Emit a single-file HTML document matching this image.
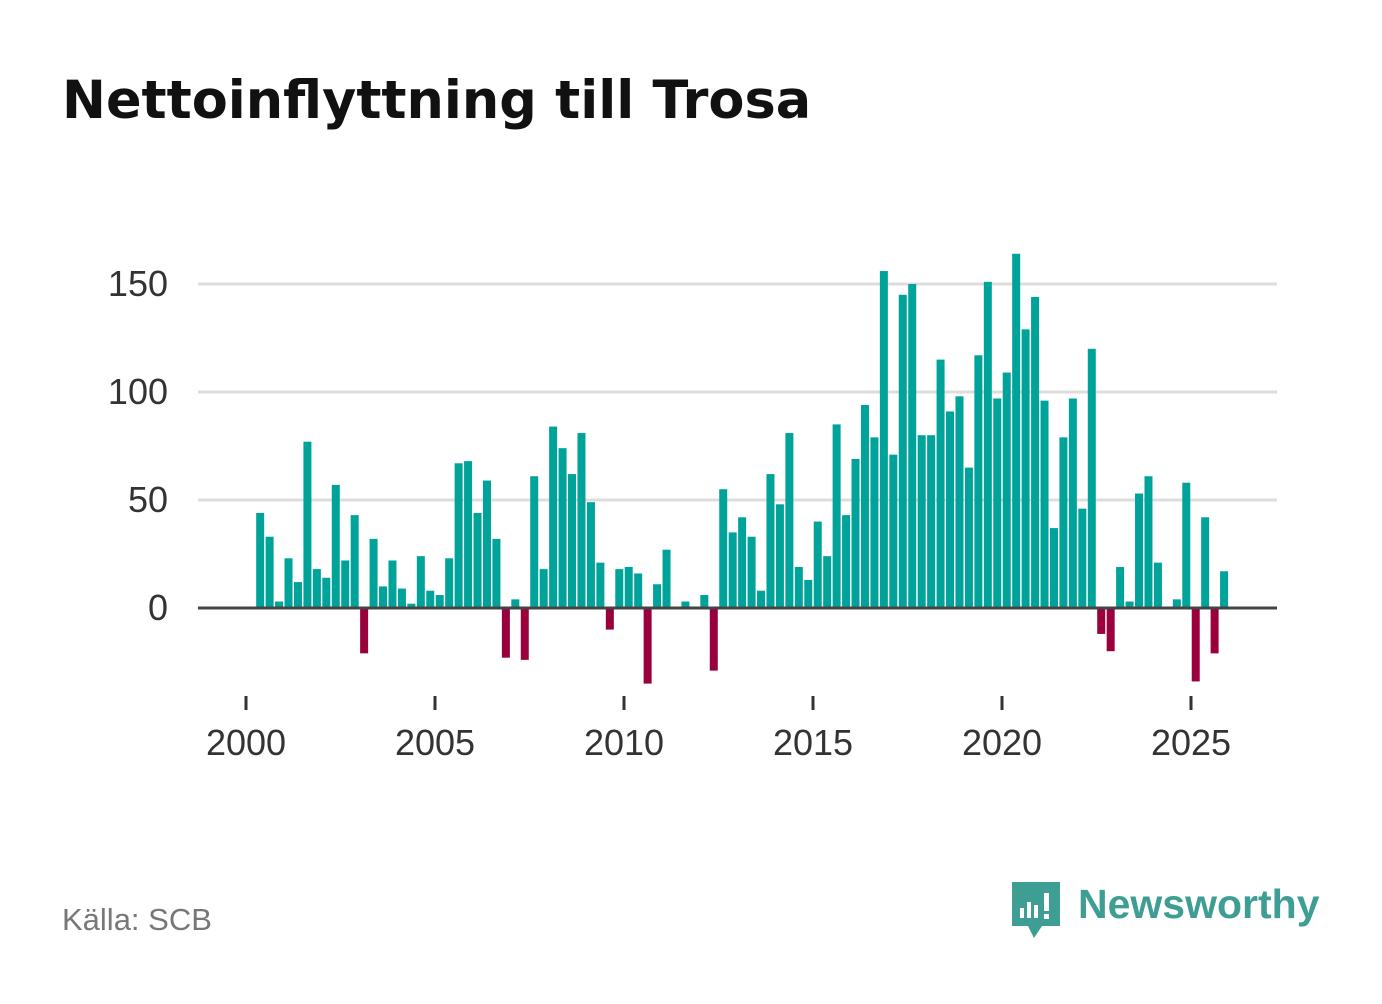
<!DOCTYPE html>
<html><head><meta charset="utf-8"><style>
body{margin:0;background:#fff;width:1382px;height:999px;overflow:hidden;font-family:"Liberation Sans",sans-serif}
</style></head><body>
<svg width="1382" height="999" xmlns="http://www.w3.org/2000/svg">
<text x="62" y="118" font-size="52.5" font-weight="bold" fill="#111" font-family="DejaVu Sans, sans-serif">Nettoinflyttning till Trosa</text>
<g id="grid"></g><g id="bars"></g><g id="axes"></g>
<text x="62" y="930" font-size="31" fill="#777">Källa: SCB</text>
<g>
<path d="M1012 882 h48 v44 h-18 l-8 12 l-6 -12 h-16 z" fill="#3e9e93"/>
<rect x="1020" y="908" width="4" height="10" fill="#fff"/><rect x="1027" y="902" width="4" height="16" fill="#fff"/><rect x="1034" y="905" width="4" height="13" fill="#fff"/><rect x="1044" y="893" width="5" height="18" fill="#fff"/><rect x="1044" y="914" width="5" height="5" fill="#fff"/>
<text x="1078" y="918" font-size="41" font-weight="bold" fill="#3e9e93">Newsworthy</text>
</g>
</svg>
<script>
const startYear = 2000.375;
const values = [44,33,3,23,12,77,18,14,57,22,43,-21,32,10,22,9,2,24,8,6,23,67,68,44,59,32,-23,4,-24,61,18,84,74,62,81,49,21,-10,18,19,16,-35,11,27,0,3,0,6,-29,55,35,42,33,8,62,48,81,19,13,40,24,85,43,69,94,79,156,71,145,150,80,80,115,91,98,65,117,151,97,109,164,129,144,96,37,79,97,46,120,-12,-20,19,3,53,61,21,0,4,58,-34,42,-21,17];
const yTicks = [0,50,100,150];
const xTicks = [2000,2005,2010,2015,2020,2025];
const NS="http://www.w3.org/2000/svg";
const x = t => 246 + (t-2000)*37.8;
const y = v => 608 - v*2.16;
function mk(tag,attrs,parent){const e=document.createElementNS(NS,tag);for(const k in attrs)e.setAttribute(k,attrs[k]);document.getElementById(parent).appendChild(e);return e;}
yTicks.forEach(v=>{
  if(v!==0){const l=mk('line',{x1:198,x2:1277,y1:y(v),y2:y(v),stroke:'#ddd','stroke-width':3},'grid');
  
  }
  const t=mk('text',{x:168,y:y(v)+12,'font-size':36,fill:'#333','text-anchor':'end'},'grid');t.textContent=v;
  
  
});
values.forEach((v,i)=>{
  const cx=x(startYear+i*0.25);
  const r=mk('rect',{x:cx-4,y:v>=0?y(v):y(0),width:8,height:Math.abs(y(v)-y(0)),fill:v>=0?'#00a399':'#99003c'},'bars');
  
  
});
const base=mk('line',{x1:198,x2:1277,y1:y(0),y2:y(0),stroke:'#444','stroke-width':3},'axes');


xTicks.forEach(t=>{
  const tk=mk('line',{x1:x(t),x2:x(t),y1:696,y2:710,stroke:'#333','stroke-width':3},'axes');
  
  
  const lb=mk('text',{x:x(t),y:755,'font-size':36,fill:'#333','text-anchor':'middle'},'axes');lb.textContent=t;
  
  
});
</script>
</body></html>
